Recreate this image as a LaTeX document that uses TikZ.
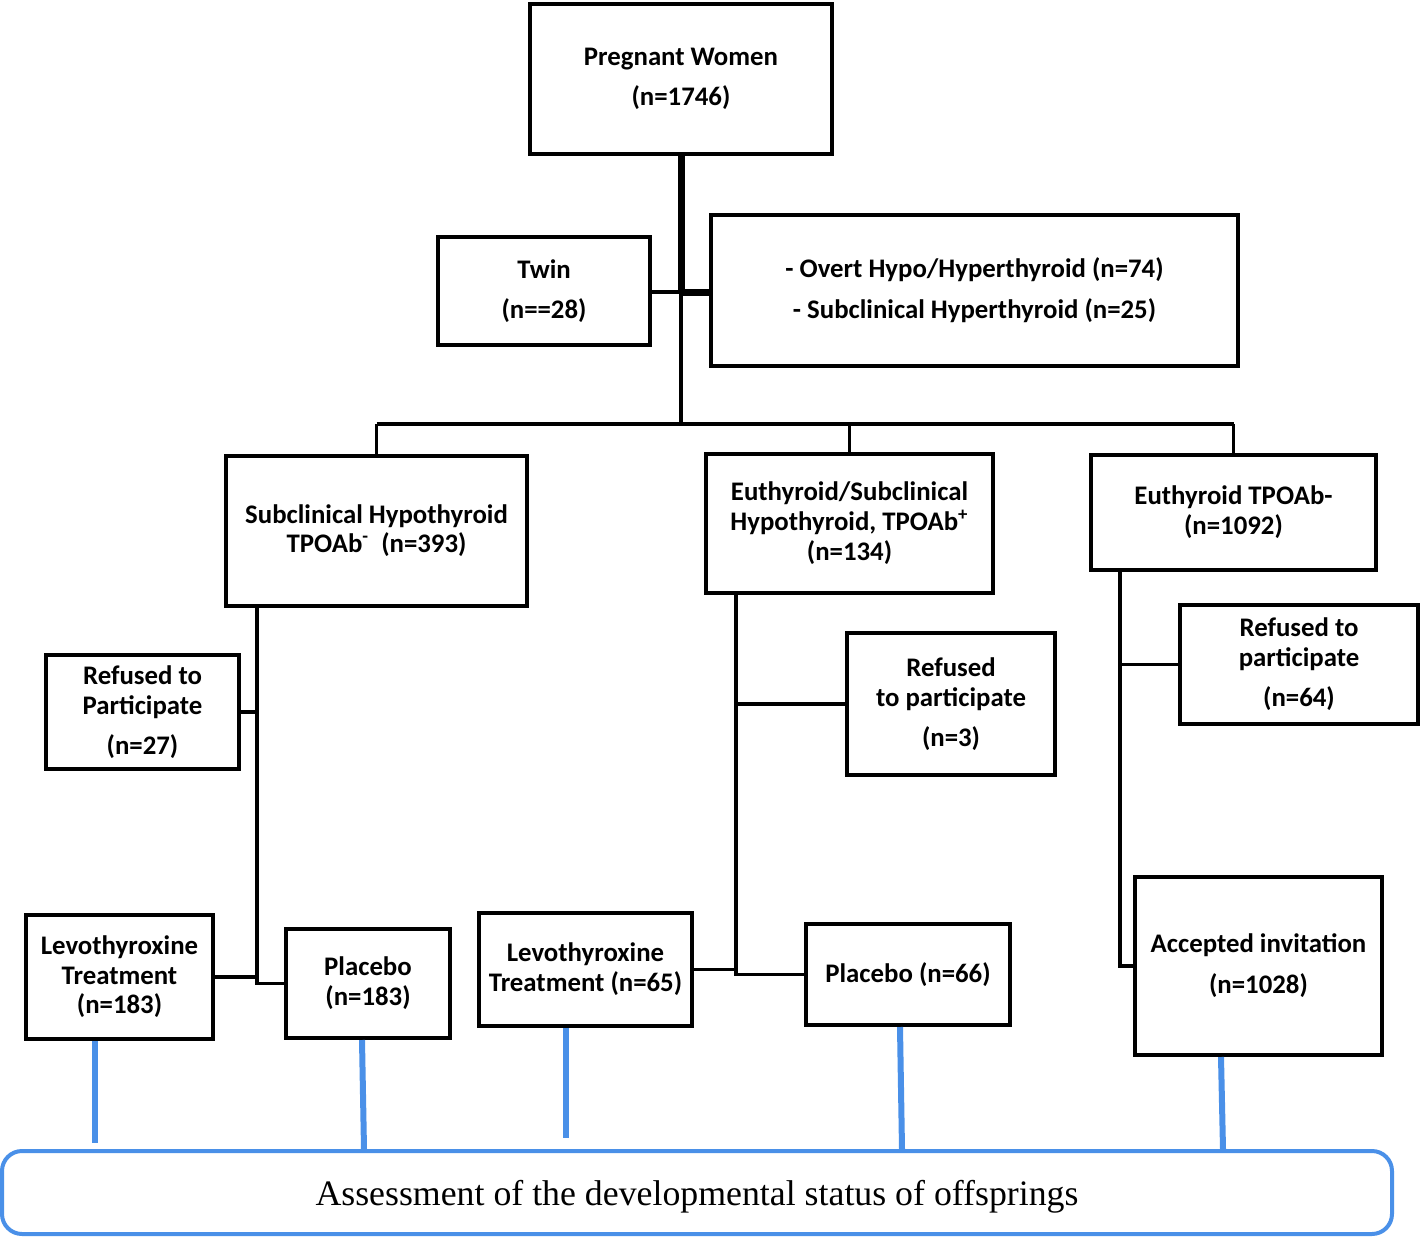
\documentclass[tikz,border=0pt]{standalone}
\usepackage{fontspec}
\setmainfont{Carlito}
\newfontfamily\timesf{Liberation Serif}
\usetikzlibrary{calc}
\definecolor{assessblue}{HTML}{4A90E8}
\begin{document}
\begin{tikzpicture}[x=0.5pt,y=-0.5pt,
  box/.style={draw=black,line width=2pt,fill=white,inner sep=0pt,align=center,
    font=\bfseries\fontsize{13.4}{15}\selectfont},
  conn/.style={draw=black,line width=1.6pt},
  heavy/.style={draw=black,line width=3.5pt},
  busline/.style={draw=black,line width=2pt},
  blueconn/.style={draw=assessblue,line width=3pt},
  assessbox/.style={draw=assessblue,line width=2pt,rounded corners=10pt,fill=white,
    inner sep=0pt,text depth=0pt,font=\timesf\fontsize{17.9}{20}\selectfont}]
\useasboundingbox (0,0) rectangle (1420,1237);

% boxes
\node[box,minimum width=151pt,minimum height=75pt] (pw) at (681,79) {Pregnant Women\\[5pt](n=1746)};
\node[box,minimum width=106pt,minimum height=54pt] (twin) at (544,291) {Twin\\[5pt](n==28)};
\node[box,minimum width=263.5pt,minimum height=75.5pt] (overt) at (974.5,290.5) {- Overt Hypo/Hyperthyroid (n=74)\\[5.5pt]- Subclinical Hyperthyroid (n=25)};
\node[box,minimum width=150.5pt,minimum height=75pt,font=\bfseries\fontsize{13.4}{14.5}\selectfont] (sh) at (376.5,531) {Subclinical Hypothyroid\\TPOAb\textsuperscript{-}\ \ (n=393)};
\node[box,minimum width=143.5pt,minimum height=69.5pt] (eu) at (849.5,523.5) {Euthyroid/Subclinical\\Hypothyroid, TPOAb\textsuperscript{+}\\(n=134)};
\node[box,minimum width=142.5pt,minimum height=57.5pt] (et) at (1233.5,512.5) {Euthyroid TPOAb-\\(n=1092)};
\node[box,minimum width=96.5pt,minimum height=57pt] (r1) at (142.5,712) {Refused to\\Participate\\[5pt](n=27)};
\node[box,minimum width=104pt,minimum height=71pt] (r2) at (951,704) {Refused\\to participate\\[5pt](n=3)};
\node[box,minimum width=119pt,minimum height=59.5pt] (r3) at (1299,664.5) {Refused to\\participate\\[5pt](n=64)};
\node[box,minimum width=93.5pt,minimum height=62pt,font=\bfseries\fontsize{13.4}{14.7}\selectfont] (l1) at (119.5,977) {Levothyroxine\\Treatment\\(n=183)};
\node[box,minimum width=82pt,minimum height=54.5pt] (p1) at (368,983.5) {Placebo\\(n=183)};
\node[box,minimum width=106.5pt,minimum height=56.5pt] (l2) at (585.5,969.5) {Levothyroxine\\Treatment (n=65)};
\node[box,minimum width=102pt,minimum height=50.5pt] (p2) at (908,974.5) {Placebo (n=66)};
\node[box,minimum width=123.5pt,minimum height=89pt] (acc) at (1258.5,966) {Accepted invitation\\[5.5pt](n=1028)};
\node[assessbox,minimum width=695pt,minimum height=41.5pt] (assess) at (697,1192.5) {Assessment of the developmental status of offsprings};

% junction coordinates
\coordinate (hub) at (681,292);
\coordinate (bus) at (681,424);
\coordinate (L1) at (257,606);
\coordinate (M1) at (736,593);
\coordinate (R1) at (1120,570);

% top connectors
\draw[conn] (twin.east |- hub) -- (hub);
\draw[conn] (hub) -- (bus);
\draw[heavy] (pw.south) -- (hub);
\draw[heavy] (hub) -- (overt.west |- hub);
\draw[busline] (sh.north |- bus) -- (et.north |- bus);
\draw[conn] (sh.north |- bus) -- (sh.north);
\draw[conn] (eu.north |- bus) -- (eu.north);
\draw[conn] (et.north |- bus) -- (et.north);

% branch connectors
\draw[conn] (L1) |- (p1.west);
\draw[conn] (r1.east) -- (r1.east -| L1);
\draw[conn] (l1.east) -- (l1.east -| L1);
\draw[conn] (M1) |- (p2.west);
\draw[conn] (r2.west) -- (r2.west -| M1);
\draw[conn] (l2.east) -- (l2.east -| M1);
\draw[conn] (R1) |- (acc.west);
\draw[conn] (r3.west) -- (r3.west -| R1);

% blue connectors
\coordinate (b1) at ($(l1.south)+(-24.5,0)$);
\coordinate (b2) at ($(p1.south)+(-6,0)$);
\coordinate (b3) at ($(l2.south)+(-19.5,0)$);
\coordinate (b4) at ($(p2.south)+(-8,0)$);
\coordinate (b5) at ($(acc.south)+(-37.5,0)$);
\draw[blueconn] (b1) -- ($(b1 |- assess.north)+(0,-6)$);
\draw[blueconn] (b2) -- ($(b2 |- assess.north)+(2,0)$);
\draw[blueconn] (b3) -- ($(b3 |- assess.north)+(0,-11)$);
\draw[blueconn] (b4) -- ($(b4 |- assess.north)+(2,0)$);
\draw[blueconn] (b5) -- ($(b5 |- assess.north)+(2,0)$);
\end{tikzpicture}
\end{document}
